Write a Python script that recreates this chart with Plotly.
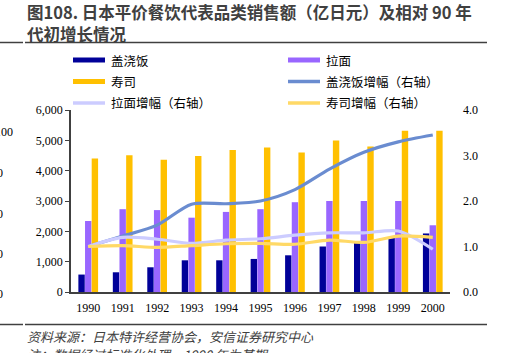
import plotly.graph_objects as go

years = ["1990", "1991", "1992", "1993", "1994", "1995", "1996", "1997", "1998", "1999", "2000"]
gaiwanfan = [575, 650, 815, 1045, 1045, 1090, 1210, 1500, 1680, 1780, 1930]
lamian = [2340, 2730, 2700, 2450, 2640, 2730, 2960, 3000, 3000, 3000, 2200]
sushi = [4400, 4510, 4360, 4480, 4680, 4760, 4600, 4995, 4800, 5320, 5320]
gaiwanfan_growth = [1.0, 1.23, 1.47, 1.93, 1.94, 2.0, 2.25, 2.7, 3.07, 3.3, 3.45]
lamian_growth = [1.0, 1.2, 1.16, 1.07, 1.14, 1.17, 1.25, 1.3, 1.3, 1.34, 0.94]
sushi_growth = [1.0, 1.02, 0.98, 1.02, 1.06, 1.07, 1.05, 1.14, 1.09, 1.23, 1.2]

left_ticks = [0, 1000, 2000, 3000, 4000, 5000, 6000]
left_tick_text = ["0", "1,000", "2,000", "3,000", "4,000", "5,000", "6,000"]
right_ticks = [0, 1, 2, 3, 4]
right_tick_text = ["0.0", "1.0", "2.0", "3.0", "4.0"]

names = ["盖浇饭", "拉面", "寿司", "盖浇饭增幅（右轴）", "拉面增幅（右轴）", "寿司增幅（右轴）"]
c_blue, c_purple, c_orange = "#000099", "#9966FF", "#FFC000"
c_lblue, c_lav, c_yel = "#6A8CD0", "#CCCCFF", "#FFD966"

W, H = 507, 353
L, R, T, B = 71, 57, 110, 61
PW, PH = W - L - R, H - T - B

fig = go.Figure()
for vals, col, nm in [(gaiwanfan, c_blue, names[0]), (lamian, c_purple, names[1]), (sushi, c_orange, names[2])]:
    fig.add_trace(go.Bar(x=years, y=vals, name=nm, marker=dict(color=col, line=dict(width=0)),
                         showlegend=False))
for vals, col, nm in [(gaiwanfan_growth, c_lblue, names[3]), (lamian_growth, c_lav, names[4]),
                      (sushi_growth, c_yel, names[5])]:
    fig.add_trace(go.Scatter(x=years, y=vals, name=nm, yaxis="y2", mode="lines",
                             line=dict(color=col, width=3.2, shape="spline", smoothing=0.8),
                             showlegend=False))

tickfont = dict(family="Liberation Serif", size=12, color="#000000")
fig.update_layout(
    width=W, height=H,
    margin=dict(l=L, r=R, t=T, b=B),
    paper_bgcolor="white", plot_bgcolor="white",
    barmode="group", bargap=0.42, bargroupgap=0.04,
    xaxis=dict(showgrid=False, showline=True, linecolor="#404040", linewidth=1.5,
               ticks="", tickfont=tickfont, ticklabelstandoff=4),
    yaxis=dict(range=[0, 6000], tickvals=left_ticks, ticktext=left_tick_text, showgrid=False,
               showline=True, linecolor="#404040", linewidth=1.5, ticks="outside", ticklen=4,
               tickcolor="#404040", tickfont=tickfont, zeroline=False),
    yaxis2=dict(range=[0, 4], tickvals=right_ticks, ticktext=right_tick_text, overlaying="y",
                side="right", showgrid=False, showline=False, zeroline=False,
                tickfont=tickfont, ticklabelstandoff=12),
)

def px_x(x):
    return (x - L) / PW

def px_y(y):
    return (H - B - y) / PH

shapes = []
annotations = []
# Title
title_font = dict(family="Noto Sans CJK SC", size=16.5, color="#404040")
annotations.append(dict(text="<b>图108. 日本平价餐饮代表品类销售额（亿日元）及相对 90 年</b>",
                        x=px_x(25), y=px_y(12), xref="paper", yref="paper", xanchor="left",
                        yanchor="middle", showarrow=False, font=title_font))
annotations.append(dict(text="<b>代初增长情况</b>",
                        x=px_x(25), y=px_y(34), xref="paper", yref="paper", xanchor="left",
                        yanchor="middle", showarrow=False, font=title_font))
# rule lines
for yy in (42.5, 324.5):
    shapes.append(dict(type="line", xref="paper", yref="paper", x0=px_x(0), x1=px_x(23),
                       y0=px_y(yy), y1=px_y(yy), line=dict(color="#404040", width=1.5)))
    shapes.append(dict(type="line", xref="paper", yref="paper", x0=px_x(25), x1=px_x(487),
                       y0=px_y(yy), y1=px_y(yy), line=dict(color="#404040", width=1.5)))
# Footer
foot_font = dict(family="Noto Sans CJK SC", size=13, color="#404040")
annotations.append(dict(text="<i>资料来源：日本特许经营协会，安信证券研究中心</i>",
                        x=px_x(25), y=px_y(336), xref="paper", yref="paper", xanchor="left",
                        yanchor="middle", showarrow=False, font=foot_font))
annotations.append(dict(text="<i>注：数据经过标准化处理，1990 年为基期</i>",
                        x=px_x(25), y=px_y(354), xref="paper", yref="paper", xanchor="left",
                        yanchor="middle", showarrow=False, font=foot_font))
# Legend (manual)
leg = [(names[0], c_blue, 5, 73, 60), (names[1], c_purple, 5, 288, 60),
       (names[2], c_orange, 5, 73, 81.5), (names[3], c_lblue, 3.5, 288, 81.5),
       (names[4], c_lav, 3.5, 73, 103), (names[5], c_yel, 3.5, 288, 103)]
for nm, col, w, x0, yy in leg:
    if w == 5:
        shapes.append(dict(type="rect", xref="paper", yref="paper", x0=px_x(x0), x1=px_x(x0 + 32),
                           y0=px_y(yy + 2.5), y1=px_y(yy - 2.5), fillcolor=col, line=dict(width=0)))
    else:
        shapes.append(dict(type="line", xref="paper", yref="paper", x0=px_x(x0), x1=px_x(x0 + 32),
                           y0=px_y(yy), y1=px_y(yy), line=dict(color=col, width=w)))
    annotations.append(dict(text=nm, x=px_x(x0 + 36), y=px_y(yy), xref="paper", yref="paper",
                            xanchor="left", yanchor="middle", showarrow=False,
                            font=dict(family="Noto Sans CJK SC", size=12.5, color="#000000")))
# cropped neighbour-axis remnants at the far left
for txt, xr, yy in [("100", 15, 131.5), ("0", 5, 172.5), ("0", 5, 214), ("0", 5, 254), ("0", 5, 293.5)]:
    annotations.append(dict(text=txt, x=px_x(xr), y=px_y(yy), xref="paper", yref="paper",
                            xanchor="right", yanchor="middle", showarrow=False,
                            font=tickfont))

fig.update_layout(shapes=shapes, annotations=annotations)
fig.write_html("out.html")
